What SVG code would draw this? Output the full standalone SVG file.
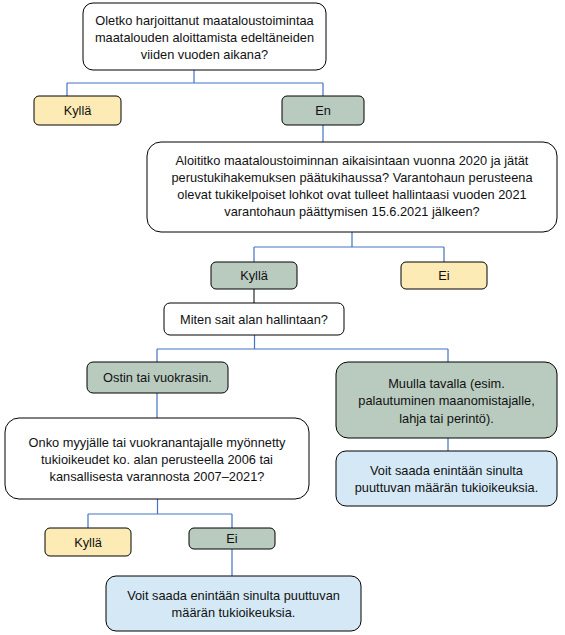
<svg xmlns="http://www.w3.org/2000/svg" width="565" height="635" viewBox="0 0 565 635">
<style>
.box{stroke:#000;stroke-width:1}
.w{fill:#fff}
.y{fill:#fdebb6}
.g{fill:#b9cbbf}
.b{fill:#d4e9f5}
.t{font-family:"Liberation Sans",Arial,sans-serif;font-size:12.8px;fill:#111;text-anchor:middle}
.c{fill:none;stroke:#4472c4;stroke-width:1.2}
.k{fill:none;stroke:#000;stroke-width:1}
</style>
<rect width="565" height="635" fill="#fff"/>
<g id="connectors">
<path class="c" d="M194 70V83M67 83H323M67 83V96M323 83V96"/>
<path class="c" d="M323 125V142"/>
<path class="c" d="M352 232V247M254 247H444M254 247V262M444 247V262"/>
<path class="k" d="M254 289V303"/>
<path class="c" d="M254.5 335V349M157 349H448M157 349V362M448 349V362"/>
<path class="c" d="M448 438V451"/>
<path class="c" d="M157 393V418"/>
<path class="c" d="M157.5 499V514M88 514H232M88 514V528M232 514V528"/>
<path class="c" d="M232 549V576"/>
</g>
<g id="q1">
<rect class="box w" x="83" y="3" width="243" height="67" rx="10"/>
<text class="t" x="204.5" y="24.5">Oletko harjoittanut maataloustoimintaa</text>
<text class="t" x="204.5" y="41.5">maatalouden aloittamista edeltäneiden</text>
<text class="t" x="204.5" y="58.5">viiden vuoden aikana?</text>
</g>
<g id="kylla1">
<rect class="box y" x="34" y="96" width="87" height="29" rx="5"/>
<text class="t" x="77.5" y="115">Kyllä</text>
</g>
<g id="en">
<rect class="box g" x="282" y="96" width="82" height="29" rx="5"/>
<text class="t" x="323" y="115">En</text>
</g>
<g id="q2">
<rect class="box w" x="147" y="142" width="410" height="90" rx="14"/>
<text class="t" x="352" y="165">Aloititko maataloustoiminnan aikaisintaan vuonna 2020 ja jätät</text>
<text class="t" x="352" y="182">perustukihakemuksen päätukihaussa? Varantohaun perusteena</text>
<text class="t" x="352" y="199">olevat tukikelpoiset lohkot ovat tulleet hallintaasi vuoden 2021</text>
<text class="t" x="352" y="216">varantohaun päättymisen 15.6.2021 jälkeen?</text>
</g>
<g id="kylla2">
<rect class="box g" x="211" y="262" width="86" height="27" rx="5"/>
<text class="t" x="254" y="280">Kyllä</text>
</g>
<g id="ei2">
<rect class="box y" x="401" y="262" width="86" height="27" rx="5"/>
<text class="t" x="444" y="280">Ei</text>
</g>
<g id="q3">
<rect class="box w" x="164" y="303" width="180" height="32" rx="6"/>
<text class="t" x="254" y="323.5">Miten sait alan hallintaan?</text>
</g>
<g id="ostin">
<rect class="box g" x="87" y="362" width="141" height="31" rx="6"/>
<text class="t" x="157.5" y="382">Ostin tai vuokrasin.</text>
</g>
<g id="muulla">
<rect class="box g" x="336" y="362" width="221" height="76" rx="12"/>
<text class="t" x="446.5" y="387.5">Muulla tavalla (esim.</text>
<text class="t" x="446.5" y="405">palautuminen maanomistajalle,</text>
<text class="t" x="446.5" y="422.5">lahja tai perintö).</text>
</g>
<g id="voit1">
<rect class="box b" x="336" y="451" width="221" height="55" rx="10"/>
<text class="t" x="446.5" y="474.5">Voit saada enintään sinulta</text>
<text class="t" x="446.5" y="491.5">puuttuvan määrän tukioikeuksia.</text>
</g>
<g id="q4">
<rect class="box w" x="5" y="418" width="304" height="81" rx="14"/>
<text class="t" x="157" y="446.5">Onko myyjälle tai vuokranantajalle myönnetty</text>
<text class="t" x="157" y="463.5">tukioikeudet ko. alan perusteella 2006 tai</text>
<text class="t" x="157" y="481">kansallisesta varannosta 2007–2021?</text>
</g>
<g id="kylla3">
<rect class="box y" x="45" y="528" width="86" height="28" rx="5"/>
<text class="t" x="88" y="546.5">Kyllä</text>
</g>
<g id="ei3">
<rect class="box g" x="189" y="528" width="86" height="21" rx="5"/>
<text class="t" x="232" y="543">Ei</text>
</g>
<g id="voit2">
<rect class="box b" x="106" y="576" width="255" height="55" rx="10"/>
<text class="t" x="233.5" y="599.5">Voit saada enintään sinulta puuttuvan</text>
<text class="t" x="233.5" y="616.5">määrän tukioikeuksia.</text>
</g>
</svg>
